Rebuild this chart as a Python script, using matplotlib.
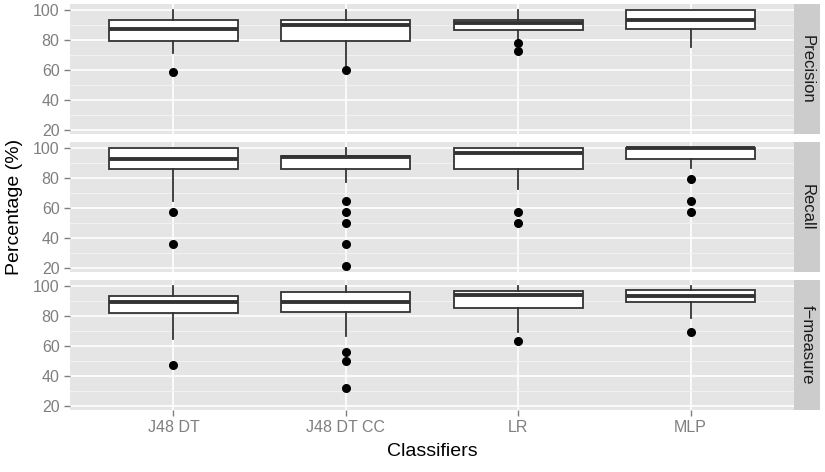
import matplotlib
matplotlib.use("Agg")
import matplotlib.pyplot as plt
from matplotlib.ticker import MultipleLocator

plt.rcParams['font.family'] = ['Liberation Sans', 'DejaVu Sans']

classifiers = ["J48 DT", "J48 DT CC", "LR", "MLP"]
metrics = ["Precision", "Recall", "f\u2212measure"]

# per metric: one value per classifier
q1 = [
    [79.5, 79.5, 86.7, 87.0],
    [86.0, 86.0, 86.0, 92.9],
    [81.7, 82.8, 85.4, 89.4],
]
med = [
    [87.3, 90.0, 91.5, 93.3],
    [92.9, 93.8, 96.7, 100.0],
    [89.4, 89.4, 93.8, 93.4],
]
q3 = [
    [93.0, 93.0, 93.3, 100.0],
    [100.0, 94.9, 100.0, 100.0],
    [93.4, 96.0, 96.7, 97.2],
]
whislo = [
    [71.5, 60.5, 80.0, 75.0],
    [64.4, 77.3, 72.2, 86.7],
    [64.7, 66.8, 69.5, 78.4],
]
whishi = [
    [100.0, 100.0, 100.0, 100.0],
    [100.0, 100.0, 100.0, 100.0],
    [100.0, 100.0, 100.0, 100.0],
]
fliers = [
    [[58.5], [59.5], [77.8, 72.2], []],
    [[57.0, 35.5], [64.4, 57.0, 50.0, 35.5, 21.0], [57.0, 50.0], [78.9, 64.4, 57.0]],
    [[47.4], [55.8, 49.6, 31.5], [63.3], [69.5]],
]

W, H = 825, 472
fig = plt.figure(figsize=(W / 100, H / 100), dpi=100)

left, right = 70 / W, 794 / W
strip_w = 26 / W
panel_tops = [4, 142, 280]
panel_h = 130

bg = "#E5E5E5"
line_col = "#333333"
tick_col = "#7F7F7F"

for i, metric in enumerate(metrics):
    top = panel_tops[i]
    ax = fig.add_axes([left, 1 - (top + panel_h) / H, right - left, panel_h / H])
    ax.set_facecolor(bg)
    for s in ax.spines.values():
        s.set_visible(False)

    stats = []
    for j, name in enumerate(classifiers):
        stats.append(dict(label=name, q1=q1[i][j], med=med[i][j], q3=q3[i][j],
                          whislo=whislo[i][j], whishi=whishi[i][j], fliers=fliers[i][j]))
    ax.bxp(stats, positions=range(1, len(classifiers) + 1), widths=0.75,
           showcaps=False, patch_artist=True,
           boxprops=dict(facecolor="white", edgecolor=line_col, linewidth=1.3),
           medianprops=dict(color=line_col, linewidth=2.8, solid_capstyle="butt"),
           whiskerprops=dict(color=line_col, linewidth=1.3),
           flierprops=dict(marker="o", markerfacecolor="black", markeredgecolor="black",
                           markersize=5.5))

    ax.set_xlim(0.4, 4.6)
    ax.set_ylim(17.05, 103.95)
    ax.yaxis.set_major_locator(MultipleLocator(20))
    ax.yaxis.set_minor_locator(MultipleLocator(10))
    ax.grid(which="major", color="white", linewidth=1.2)
    ax.grid(which="minor", axis="y", color="#F2F2F2", linewidth=0.7)
    ax.set_axisbelow(True)
    ax.tick_params(axis="y", which="minor", length=0)
    ax.tick_params(axis="both", which="major", colors=tick_col, labelcolor=tick_col,
                   labelsize=11.5, length=4.5, width=1.0, pad=3)
    ax.set_xticks(range(1, len(classifiers) + 1))
    if i < len(metrics) - 1:
        ax.set_xticklabels([])
        ax.tick_params(axis="x", length=0)
    else:
        ax.set_xticklabels(classifiers)

    # facet strip on the right
    sax = fig.add_axes([right, 1 - (top + panel_h) / H, strip_w, panel_h / H])
    sax.set_facecolor("#CCCCCC")
    sax.set_xticks([])
    sax.set_yticks([])
    for s in sax.spines.values():
        s.set_visible(False)
    sax.text(0.5, 0.5, metric, rotation=-90, ha="center", va="center",
             fontsize=12, color="#1A1A1A", transform=sax.transAxes)

fig.text(15 / W, 1 - 207 / H, "Percentage (%)", rotation=90, ha="center", va="center",
         fontsize=14, color="black")
fig.text((left + right) / 2, 1 - 451 / H, "Classifiers", ha="center", va="center",
         fontsize=14, color="black")

fig.savefig("out.png", dpi=100)
